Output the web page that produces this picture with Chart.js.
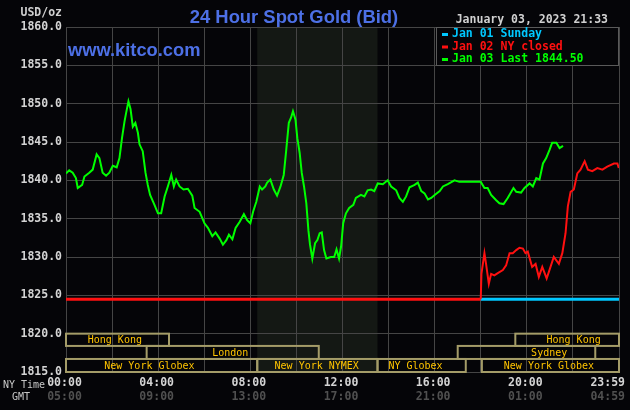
<!DOCTYPE html>
<html>
<head>
<meta charset="utf-8">
<script src="https://cdn.jsdelivr.net/npm/chart.js@4.4.0/dist/chart.umd.min.js"></script>
<style>
  html, body { margin: 0; padding: 0; background: #050508; }
  #wrap { width: 630px; height: 410px; }
</style>
</head>
<body>
<div id="wrap"><canvas id="gold"></canvas></div>
<script>
// 24 hour spot gold (bid), hours in NY time
const jan03Hours = [0.00, 0.14, 0.29, 0.43, 0.51, 0.70, 0.80, 1.01, 1.16, 1.33, 1.45, 1.59, 1.74, 1.88, 2.03, 2.20, 2.32, 2.43, 2.54, 2.61, 2.71, 2.80, 2.90, 3.01, 3.12, 3.19, 3.33, 3.45, 3.55, 3.65, 3.84, 3.99, 4.13, 4.28, 4.42, 4.57, 4.68, 4.78, 4.93, 5.10, 5.29, 5.48, 5.58, 5.80, 6.01, 6.16, 6.35, 6.49, 6.67, 6.81, 6.96, 7.07, 7.22, 7.36, 7.54, 7.72, 7.86, 8.00, 8.12, 8.26, 8.41, 8.51, 8.65, 8.73, 8.87, 9.02, 9.16, 9.31, 9.45, 9.56, 9.67, 9.77, 9.85, 9.96, 10.04, 10.14, 10.23, 10.33, 10.43, 10.52, 10.59, 10.69, 10.81, 10.91, 11.01, 11.10, 11.20, 11.30, 11.49, 11.64, 11.74, 11.85, 11.94, 12.03, 12.15, 12.29, 12.47, 12.58, 12.80, 12.95, 13.09, 13.24, 13.38, 13.53, 13.75, 13.96, 14.11, 14.33, 14.47, 14.62, 14.76, 14.91, 15.13, 15.27, 15.42, 15.56, 15.71, 15.85, 16.00, 16.22, 16.36, 16.57, 16.86, 17.07, 17.36, 18.00, 18.16, 18.30, 18.45, 18.67, 18.81, 18.99, 19.17, 19.42, 19.54, 19.75, 19.90, 20.12, 20.26, 20.41, 20.55, 20.70, 20.84, 20.99, 21.10, 21.28, 21.42, 21.57];
const jan03Prices = [1840.9, 1841.3, 1841.0, 1840.3, 1839.0, 1839.4, 1840.5, 1841.0, 1841.4, 1843.4, 1842.9, 1841.0, 1840.6, 1841.0, 1841.9, 1841.7, 1842.9, 1845.5, 1847.7, 1848.8, 1850.3, 1849.3, 1847.0, 1847.5, 1846.2, 1844.7, 1843.8, 1841.0, 1839.4, 1838.1, 1836.8, 1835.7, 1835.7, 1837.9, 1839.2, 1840.7, 1839.2, 1840.1, 1839.2, 1838.8, 1838.9, 1838.0, 1836.4, 1835.9, 1834.4, 1833.8, 1832.7, 1833.2, 1832.4, 1831.6, 1832.2, 1832.9, 1832.3, 1833.8, 1834.6, 1835.6, 1834.8, 1834.4, 1835.9, 1837.2, 1839.2, 1838.8, 1839.2, 1839.7, 1840.1, 1838.8, 1838.0, 1839.2, 1840.7, 1844.0, 1847.5, 1848.2, 1849.0, 1847.9, 1845.5, 1843.6, 1841.0, 1839.2, 1837.0, 1833.5, 1831.6, 1829.8, 1831.8, 1832.2, 1833.1, 1833.2, 1830.9, 1829.8, 1830.0, 1830.0, 1831.0, 1829.8, 1831.4, 1834.4, 1835.7, 1836.4, 1836.8, 1837.7, 1838.1, 1837.9, 1838.7, 1838.8, 1838.6, 1839.6, 1839.5, 1840.0, 1839.2, 1838.7, 1837.7, 1837.2, 1837.9, 1839.1, 1839.4, 1839.7, 1838.6, 1838.3, 1837.5, 1837.7, 1838.1, 1838.6, 1839.2, 1839.5, 1840.0, 1839.8, 1839.8, 1839.8, 1839.0, 1839.0, 1838.1, 1837.4, 1837.0, 1836.9, 1837.7, 1839.0, 1838.5, 1838.4, 1839.0, 1839.6, 1839.2, 1840.3, 1840.1, 1842.2, 1842.9, 1844.0, 1844.9, 1844.9, 1844.2, 1844.5];

const jan02Hours = [18.00, 18.03, 18.16, 18.23, 18.35, 18.45, 18.59, 18.74, 18.96, 19.10, 19.25, 19.39, 19.54, 19.68, 19.83, 19.94, 20.04, 20.23, 20.38, 20.52, 20.67, 20.86, 20.96, 21.17, 21.39, 21.54, 21.68, 21.78, 21.90, 22.04, 22.19, 22.33, 22.51, 22.65, 22.84, 23.06, 23.28, 23.49, 23.78, 23.93, 23.99];
const jan02Prices = [1824.5, 1827.8, 1830.5, 1829.1, 1826.5, 1827.8, 1827.6, 1827.9, 1828.3, 1828.9, 1830.5, 1830.5, 1830.9, 1831.2, 1831.1, 1830.5, 1830.7, 1828.7, 1829.1, 1827.4, 1828.7, 1827.2, 1828.1, 1830.0, 1829.1, 1830.5, 1833.1, 1836.6, 1838.5, 1838.8, 1840.9, 1841.4, 1842.5, 1841.4, 1841.2, 1841.6, 1841.4, 1841.8, 1842.2, 1842.2, 1841.6];

// flat lines: Jan 02 closed until 18:00, Jan 01 Sunday evening
const closedLevel = 1824.5;
const jan02ClosedHours = [0, 18];
const jan01Hours = [18, 24];

const legendLabels = ['Jan 01 Sunday', 'Jan 02 NY closed', 'Jan 03 Last 1844.50'];
const legendColors = ['#00c8ff', '#ff1010', '#00ff00'];

const yTicks = [1815, 1820, 1825, 1830, 1835, 1840, 1845, 1850, 1855, 1860];
const xTickHours = [0, 4, 8, 12, 16, 20, 24];
const nyTimeLabels = ['00:00', '04:00', '08:00', '12:00', '16:00', '20:00', '23:59'];
const gmtLabels = ['05:00', '09:00', '13:00', '17:00', '21:00', '01:00', '04:59'];

// market sessions (row 0 top .. row 2 bottom)
const sessionNames = ['Hong Kong', 'Hong Kong', 'London', 'Sydney', 'New York Globex', 'New York NYMEX', 'NY Globex', 'New York Globex'];
const sessionRows = [0, 0, 1, 1, 2, 2, 2, 2];
const sessionStart = [0, 19.5, 3.5, 17.0, 0, 8.3, 13.52, 18.05];
const sessionEnd = [4.47, 24, 10.97, 22.97, 8.3, 13.52, 17.35, 24];
const sessionLabelAt = [2.12, 22.03, 7.13, 20.97, 3.62, 10.88, 15.17, 20.96];
const nymexHours = [8.3, 13.52];

const BG = '#050508';
const GRID = '#454545';
const MONO = '"DejaVu Sans Mono", monospace';

const toPoints = (xs, ys) => xs.map((h, i) => ({ x: h, y: ys[i] }));

const kitcoFrame = {
    id: 'kitcoFrame',
    beforeDraw(chart) {
        const { ctx, chartArea: a, scales: { x } } = chart;
        ctx.save();
        ctx.fillStyle = BG;
        ctx.fillRect(0, 0, chart.width, chart.height);
        // NYMEX pit session shading
        const x0 = x.getPixelForValue(nymexHours[0]);
        const x1 = x.getPixelForValue(nymexHours[1]);
        ctx.fillStyle = '#141814';
        ctx.fillRect(x0, a.top, x1 - x0, a.bottom - a.top);
        ctx.restore();
    },
    afterDraw(chart) {
        const { ctx, chartArea: a, scales: { x, y } } = chart;
        ctx.save();

        // session boxes
        const rowEdges = [1820, 1818.4, 1816.7, 1815];
        ctx.lineWidth = 2;
        ctx.strokeStyle = '#a49c68';
        ctx.font = '10px ' + MONO;
        ctx.textAlign = 'center';
        ctx.textBaseline = 'middle';
        sessionNames.forEach((name, i) => {
            const r = sessionRows[i];
            const top = y.getPixelForValue(rowEdges[r]);
            const bot = y.getPixelForValue(rowEdges[r + 1]);
            const l = x.getPixelForValue(sessionStart[i]);
            const rt = x.getPixelForValue(sessionEnd[i]);
            ctx.strokeRect(l, top, rt - l, bot - top);
        });
        ctx.fillStyle = '#ffc400';
        sessionNames.forEach((name, i) => {
            const r = sessionRows[i];
            const mid = (y.getPixelForValue(rowEdges[r]) + y.getPixelForValue(rowEdges[r + 1])) / 2;
            ctx.fillText(name, x.getPixelForValue(sessionLabelAt[i]), mid + 1);
        });

        // legend box
        const lx = 436, ly = a.top, lw = a.right - 436, lh = 39;
        ctx.fillStyle = BG;
        ctx.fillRect(lx, ly, lw, lh);
        ctx.lineWidth = 1;
        ctx.strokeStyle = '#5a5a5a';
        ctx.strokeRect(lx + 0.5, ly + 0.5, lw - 1, lh - 1);
        ctx.font = 'bold 11.5px ' + MONO;
        ctx.textAlign = 'left';
        legendLabels.forEach((txt, i) => {
            const cy = ly + 7 + i * 12.5;
            ctx.fillStyle = legendColors[i];
            ctx.fillRect(442, cy - 1, 6, 3);
            ctx.fillText(txt, 452, cy + 0.5);
        });

        // header texts
        ctx.fillStyle = '#4d70e6';
        ctx.font = 'bold 18.4px "Liberation Sans", Arial, sans-serif';
        ctx.textAlign = 'center';
        ctx.textBaseline = 'alphabetic';
        ctx.fillText('24 Hour Spot Gold (Bid)', 294, 22.5);
        ctx.textAlign = 'left';
        ctx.font = 'bold 18.3px "Liberation Sans", Arial, sans-serif';
        ctx.fillText('www.kitco.com', 68, 56);

        ctx.font = 'bold 11.5px ' + MONO;
        ctx.textBaseline = 'middle';
        ctx.fillStyle = '#d0d0d0';
        ctx.textAlign = 'right';
        ctx.fillText('USD/oz', 62, 13.5);
        ctx.fillText('January 03, 2023 21:33', 608, 20.5);

        // time axis labels, NY time and GMT
        xTickHours.forEach((h, i) => {
            const last = i === xTickHours.length - 1;
            const px = last ? 625 : x.getPixelForValue(h) - 1.5;
            ctx.textAlign = last ? 'right' : 'center';
            ctx.fillStyle = '#d4d4d4';
            ctx.fillText(nyTimeLabels[i], px, 383);
            ctx.fillStyle = '#505050';
            ctx.fillText(gmtLabels[i], px, 397.5);
        });
        ctx.font = '10px ' + MONO;
        ctx.fillStyle = '#c8c8c8';
        ctx.textAlign = 'left';
        ctx.fillText('NY Time', 3, 385);
        ctx.fillText('GMT', 12, 397.5);

        ctx.restore();
    }
};

new Chart(document.getElementById('gold'), {
    type: 'line',
    data: {
        datasets: [
            {
                label: legendLabels[2],
                data: toPoints(jan03Hours, jan03Prices),
                borderColor: legendColors[2],
                borderWidth: 2,
            },
            {
                label: legendLabels[1],
                data: toPoints(jan02Hours, jan02Prices),
                borderColor: legendColors[1],
                borderWidth: 2,
            },
            {
                label: legendLabels[0],
                data: toPoints(jan01Hours, jan01Hours.map(() => closedLevel)),
                borderColor: legendColors[0],
                borderWidth: 3,
            },
            {
                label: 'closed',
                data: toPoints(jan02ClosedHours, jan02ClosedHours.map(() => closedLevel)),
                borderColor: legendColors[1],
                borderWidth: 3,
            },
        ],
    },
    options: {
        responsive: true,
        maintainAspectRatio: false,
        animation: false,
        parsing: false,
        elements: {
            point: { radius: 0 },
            line: { tension: 0, borderCapStyle: 'butt' },
        },
        layout: { padding: { top: 27, right: 11, bottom: 0, left: 0 } },
        plugins: {
            legend: { display: false },
            tooltip: { enabled: false },
        },
        scales: {
            x: {
                type: 'linear',
                min: 0,
                max: 24,
                ticks: { stepSize: 2, display: false },
                grid: { color: GRID, drawTicks: false },
                border: { display: false },
                afterFit: (s) => { s.height = 38; },
            },
            y: {
                min: yTicks[0],
                max: yTicks[yTicks.length - 1],
                afterBuildTicks: (s) => { s.ticks = yTicks.map(v => ({ value: v })); },
                ticks: {
                    color: '#d4d4d4',
                    font: { family: MONO, size: 11.5, weight: 'bold' },
                    padding: 4,
                    callback: (v) => Number(v).toFixed(1),
                },
                grid: { color: GRID, drawTicks: false },
                border: { display: false },
                afterFit: (s) => { s.width = 66; },
            },
        },
    },
    plugins: [kitcoFrame],
});
</script>
</body>
</html>
